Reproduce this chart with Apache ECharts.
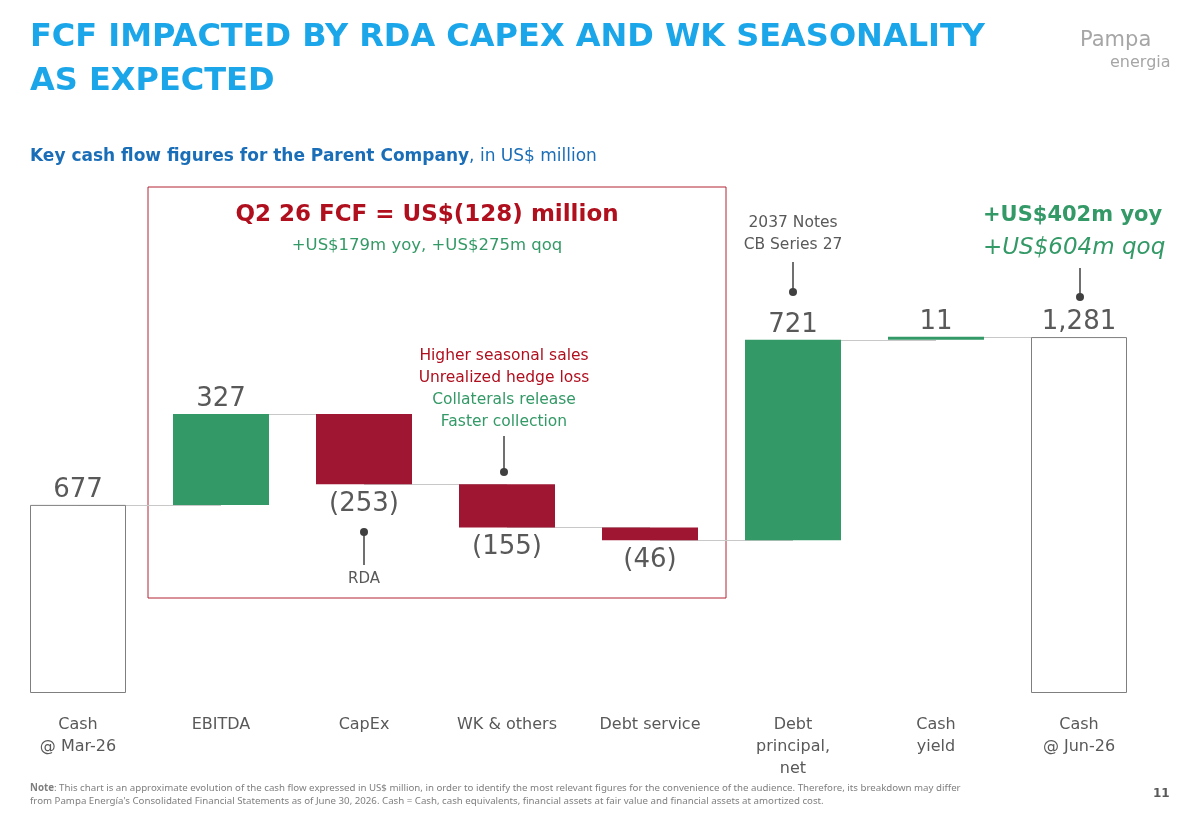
<!DOCTYPE html><html><head><meta charset="utf-8"><script src="https://cdn.jsdelivr.net/npm/echarts@6/dist/echarts.min.js"></script>
<style>html,body{margin:0;padding:0;background:#fff}#c{width:1192px;height:825px}</style></head><body><div id="c"></div>
<script>
const categories=["Cash\n@ Mar-26","EBITDA","CapEx","WK & others","Debt service","Debt\nprincipal,\nnet","Cash\nyield","Cash\n@ Jun-26"];
const deltas=[677,327,-253,-155,-46,721,11,1281];
const labels=["677","327","(253)","(155)","(46)","721","11","1,281"];
const kinds=["total","pos","neg","neg","neg","pos","pos","total"];
const GREEN="#339966",RED="#9e1631",GRAY="#595959";
const base=[],vis=[],levels=[];
let run=0;
deltas.forEach((d,i)=>{
  if(kinds[i]==="total"){base.push(0);vis.push(d);run=d;}
  else if(d>=0){base.push(run);vis.push(d);run+=d;}
  else{run+=d;base.push(run);vis.push(-d);}
  levels.push(kinds[i]==="total"?d:run);
});
const visData=vis.map((v,i)=>({value:v,
  itemStyle:kinds[i]==="total"?{color:"#fff",borderColor:"#7f7f7f",borderWidth:1}:{color:kinds[i]==="pos"?GREEN:RED},
  label:{show:true,position:kinds[i]==="neg"?"bottom":"top",formatter:labels[i],distance:kinds[i]==="neg"?7:2}}));
const lines=[];
for(let i=0;i<levels.length-1;i++){lines.push([{coord:[i,levels[i]]},{coord:[i+1,levels[i]]}]);}
const chart=echarts.init(document.getElementById('c'));
const F='DejaVu Sans';
const T=(x,y,text,style)=>({type:'text',left:x,top:y,style:Object.assign({text,fontFamily:F},style)});
const C=(x,y,text,style)=>({type:'text',style:Object.assign({text,x:x,y:y,align:'center',fontFamily:F},style)});
const lead=(x,y1,y2,dotY)=>[{type:'line',shape:{x1:x,y1:y1,x2:x,y2:y2},style:{stroke:'#404040',lineWidth:1.5}},{type:'circle',shape:{cx:x,cy:dotY,r:4},style:{fill:'#404040'}}];
chart.setOption({
  animation:false,
  grid:{left:6.5,right:41.5,top:304,bottom:132},
  xAxis:{type:'category',data:categories,axisLine:{show:false},axisTick:{show:false},
    axisLabel:{color:GRAY,fontSize:16,fontFamily:F,lineHeight:22,margin:21,verticalAlign:'top'}},
  yAxis:{type:'value',min:0,max:1400,show:false,splitLine:{show:false}},
  series:[
    {type:'line',data:[],z:1,zlevel:0,markLine:{symbol:'none',silent:true,label:{show:false},lineStyle:{color:'#c8c8c8',type:'solid',width:1},data:lines}},
    {type:'bar',stack:'w',data:base,itemStyle:{color:'transparent'},barWidth:96,z:10},
    {type:'bar',stack:'w',data:visData,barWidth:96,z:10,label:{color:GRAY,fontSize:26,fontFamily:F}}
  ],
  graphic:[
    T(30,16,'FCF IMPACTED BY RDA CAPEX AND WK SEASONALITY\nAS EXPECTED',{fill:'#1ba6ea',fontSize:32,fontWeight:'bold',lineHeight:44}),
    T(1080,30,'Pampa',{fill:'#a6a6a6',fontSize:21}),
    T(1110,55,'energia',{fill:'#a6a6a6',fontSize:16}),
    T(30,148,'{b|Key cash flow figures for the Parent Company}{n|, in US$ million}',{rich:{b:{fill:'#1a6eb8',fontSize:17,fontWeight:'bold',fontFamily:F},n:{fill:'#1a6eb8',fontSize:17,fontFamily:F}}}),
    {type:'rect',shape:{x:148,y:187,width:578,height:411},style:{fill:'none',stroke:'#b22234',lineWidth:1}},
    C(427,204,'Q2 26 FCF = US$(128) million',{fill:'#b00f1e',fontSize:23,fontWeight:'bold'}),
    C(427,237,'+US$179m yoy, +US$275m qoq',{fill:GREEN,fontSize:16.5}),
    {type:'text',style:{text:'{r|Higher seasonal sales}\n{r|Unrealized hedge loss}\n{g|Collaterals release}\n{g|Faster collection}',x:504,y:345,align:'center',lineHeight:22,rich:{r:{fill:'#b00f1e',fontSize:15.5,fontFamily:F,align:'center'},g:{fill:GREEN,fontSize:15.5,fontFamily:F,align:'center'}}}},
    ...lead(504,436,472,472),
    ...lead(364,532,565,532),
    C(364,572,'RDA',{fill:GRAY,fontSize:15}),
    C(793,212,'2037 Notes\nCB Series 27',{fill:GRAY,fontSize:15.5,lineHeight:22}),
    ...lead(793,262,292,292),
    T(983,205,'+US$402m yoy',{fill:GREEN,fontSize:21,fontWeight:'bold'}),
    T(983,237,'+US$604m qoq',{fill:GREEN,fontSize:23,fontStyle:'italic'}),
    ...lead(1080,268,297,297),
    T(30,782,'{b|Note}: This chart is an approximate evolution of the cash flow expressed in US$ million, in order to identify the most relevant figures for the convenience of the audience. Therefore, its breakdown may differ\nfrom Pampa Energía\'s Consolidated Financial Statements as of June 30, 2026. Cash = Cash, cash equivalents, financial assets at fair value and financial assets at amortized cost.',{fill:'#7f7f7f',fontSize:9.7,lineHeight:13,fontFamily:'Noto Sans',rich:{b:{fill:'#7f7f7f',fontSize:9.7,fontWeight:'bold',fontFamily:'Noto Sans'}}}),
    T(1153,788,'11',{fill:'#595959',fontSize:12,fontWeight:'bold'})
  ]
});
</script></body></html>
